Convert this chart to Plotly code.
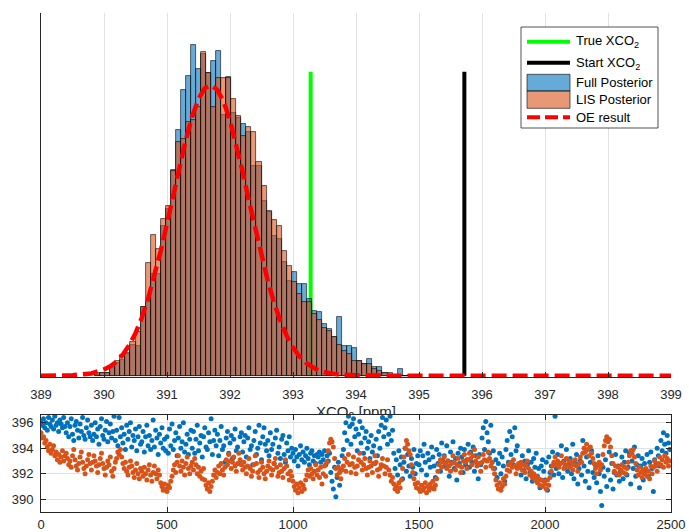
import plotly.graph_objects as go

# ---------------- posterior histograms ----------------
bin_width = 0.08  # ppm
bin_centers = [round(389.90 + bin_width * i, 2) for i in range(63)]

full_posterior = [
    0.002, 0.007, 0.005, 0.018, 0.029, 0.036, 0.050, 0.070, 0.068, 0.155,
    0.167, 0.230, 0.230, 0.338, 0.376, 0.466, 0.556, 0.647, 0.678, 0.748,
    0.694, 0.728, 0.685, 0.712, 0.734, 0.590, 0.676, 0.595, 0.583, 0.568,
    0.552, 0.473, 0.473, 0.394, 0.369, 0.315, 0.309, 0.257, 0.214, 0.234,
    0.207, 0.207, 0.173, 0.146, 0.144, 0.117, 0.106, 0.088, 0.133, 0.068,
    0.068, 0.063, 0.034, 0.027, 0.038, 0.020, 0.020, 0.007, 0.005, 0.000,
    0.014, 0.000, 0.002,
]
lis_posterior = [
    0.005, 0.007, 0.005, 0.023, 0.034, 0.047, 0.052, 0.077, 0.099, 0.155,
    0.255, 0.318, 0.286, 0.354, 0.383, 0.462, 0.529, 0.534, 0.574, 0.579,
    0.608, 0.732, 0.685, 0.608, 0.674, 0.674, 0.674, 0.626, 0.588, 0.541,
    0.563, 0.552, 0.484, 0.428, 0.372, 0.351, 0.338, 0.282, 0.248, 0.212,
    0.185, 0.167, 0.167, 0.140, 0.126, 0.108, 0.101, 0.088, 0.070, 0.056,
    0.050, 0.034, 0.034, 0.027, 0.027, 0.016, 0.011, 0.007, 0.002, 0.002,
    0.000, 0.000, 0.000,
]

# optimal-estimation posterior curve
oe_x = [389.0, 389.5, 389.8, 389.9, 390.0, 390.1, 390.2, 390.3, 390.4, 390.5,
        390.6, 390.7, 390.8, 390.9, 391.0, 391.1, 391.2, 391.3, 391.4, 391.5,
        391.6, 391.7, 391.8, 391.9, 392.0, 392.1, 392.2, 392.3, 392.4, 392.5,
        392.6, 392.7, 392.8, 392.9, 393.0, 393.1, 393.2, 393.3, 393.4, 393.5,
        393.7, 394.0, 394.5, 399.0]
oe_y = [0.000, 0.001, 0.005, 0.009, 0.014, 0.021, 0.032, 0.048, 0.069, 0.096,
        0.131, 0.174, 0.224, 0.282, 0.344, 0.410, 0.474, 0.534, 0.586, 0.626,
        0.650, 0.657, 0.646, 0.619, 0.577, 0.523, 0.462, 0.396, 0.332, 0.270,
        0.214, 0.165, 0.123, 0.090, 0.064, 0.044, 0.030, 0.020, 0.012, 0.008,
        0.003, 0.001, 0.000, 0.000]

true_xco2 = 393.28
start_xco2 = 395.72
marker_height = 0.687

# ---------------- MCMC chains (every 5th iteration) ----------------
iterations = list(range(0, 2500, 5))

full_chain = [
    396.1, 395.8, 396.3, 395.6, 396.0, 395.4, 396.4, 395.9, 395.7, 396.2, 395.5, 396.5, 395.8, 396.0, 395.3, 396.2, 395.9, 395.6, 396.4, 395.7,
    395.2, 396.0, 394.9, 395.7, 396.3, 395.1, 394.6, 395.8, 396.1, 395.4, 394.8, 395.9, 395.3, 396.4, 395.0, 394.7, 395.6, 396.2, 395.2, 394.9,
    395.8, 394.6, 395.1, 396.0, 394.9, 395.5, 394.3, 395.7, 396.3, 395.0, 394.7, 395.4, 396.1, 394.5, 395.2, 395.9, 394.8, 395.3, 396.5, 394.6,
    395.4, 394.2, 396.4, 394.9, 395.6, 394.4, 395.1, 393.9, 395.8, 394.7, 395.3, 396.0, 394.1, 395.0, 394.6, 395.5, 393.8, 394.9, 395.7, 394.3,
    394.5, 395.3, 393.7, 394.9, 395.8, 394.2, 395.0, 393.9, 394.6, 396.2, 394.1, 395.4, 394.8, 393.5, 395.1, 394.4, 395.6, 394.0, 394.7, 393.8,
    394.9, 393.6, 395.5, 394.2, 395.9, 393.9, 394.6, 395.2, 393.4, 394.8, 395.7, 394.0, 394.5, 396.0, 393.7, 394.3, 395.1, 393.5, 394.7, 395.4,
    394.0, 395.3, 393.6, 394.7, 395.8, 393.8, 394.4, 395.0, 393.3, 394.9, 395.6, 394.1, 393.9, 395.2, 394.5, 396.3, 393.5, 394.6, 395.4, 394.2,
    395.1, 393.4, 394.6, 395.7, 393.9, 394.2, 392.9, 394.8, 395.3, 393.6, 394.4, 395.0, 393.2, 394.7, 395.5, 393.8, 394.1, 392.8, 394.9, 395.2,
    393.7, 394.5, 395.0, 393.3, 394.8, 395.6, 393.9, 394.2, 392.7, 394.6, 395.3, 393.5, 394.0, 395.8, 394.4, 393.1, 394.9, 395.6, 394.3, 393.8,
    394.6, 393.4, 395.2, 393.9, 394.3, 392.8, 394.8, 395.4, 393.6, 394.1, 393.2, 394.7, 395.0, 393.5, 392.9, 394.4, 393.8, 394.9, 393.3, 394.0,
    393.6, 393.0, 393.9, 393.3, 392.6, 393.5, 394.2, 393.1, 393.7, 392.9, 393.4, 394.0, 393.2, 392.7, 393.6, 393.8, 393.0, 393.4, 392.8, 393.5,
    393.3, 393.7, 392.9, 393.5, 393.1, 393.8, 392.7, 393.4, 393.0, 393.6, 392.1, 391.4, 390.8, 392.5, 390.2, 391.7, 392.9, 391.1, 392.3, 393.4,
    393.9, 395.2, 396.0, 394.6, 396.5, 395.7, 394.3, 395.9, 396.3, 394.9, 395.5, 393.8, 395.1, 396.1, 394.4, 395.6, 393.6, 394.8, 395.3, 394.0,
    394.5, 393.2, 395.0, 393.7, 394.2, 392.8, 394.7, 393.4, 395.3, 394.0, 395.8, 396.4, 394.9, 395.6, 396.2, 394.3, 395.1, 396.5, 394.6, 395.4,
    393.6, 392.4, 393.1, 391.9, 393.8, 392.7, 393.3, 391.6, 392.9, 394.0, 392.2, 393.5, 392.6, 391.8, 393.2, 392.5, 393.9, 392.0, 392.8, 393.4,
    392.7, 393.8, 392.3, 393.4, 394.3, 392.9, 391.9, 393.6, 393.1, 392.5, 394.1, 393.3, 392.6, 391.7, 393.9, 392.8, 393.5, 392.2, 394.4, 393.0,
    393.4, 392.6, 394.2, 393.0, 391.8, 393.7, 392.9, 394.5, 392.4, 393.2, 391.5, 393.6, 392.8, 394.0, 393.3, 392.1, 393.9, 392.7, 393.1, 394.3,
    392.5, 393.7, 392.9, 394.1, 392.2, 393.4, 392.8, 391.6, 393.5, 392.7, 394.8, 395.6, 393.9, 396.1, 395.2, 394.5, 393.6, 395.8, 392.9, 393.8,
    392.4, 393.1, 391.7, 392.8, 393.6, 392.0, 393.3, 392.6, 391.4, 393.9, 394.6, 392.9, 395.3, 393.5, 394.9, 392.7, 395.6, 393.8, 394.2, 392.5,
    392.8, 391.9, 393.4, 392.3, 393.0, 391.6, 392.7, 393.8, 392.1, 392.9, 391.4, 393.2, 392.5, 393.6, 391.8, 392.4, 390.9, 392.6, 393.1, 392.2,
    391.5, 392.9, 390.7, 393.3, 392.1, 392.6, 393.7, 391.9, 396.5, 392.4, 393.5, 392.0, 392.8, 394.2, 391.7, 393.0, 392.5, 393.9, 392.2, 392.7,
    393.2, 392.0, 394.3, 391.6, 392.8, 393.5, 391.2, 392.4, 393.0, 391.9, 394.6, 392.6, 391.4, 393.3, 392.2, 390.9, 392.9, 393.8, 392.1, 391.7,
    392.7, 391.3, 393.4, 392.0, 390.6, 389.5, 392.5, 391.8, 393.1, 391.0, 392.3, 393.7, 391.5, 392.8, 390.8, 392.1, 393.5, 391.9, 392.6, 391.4,
    392.2, 393.3, 391.6, 392.9, 393.8, 391.9, 392.5, 393.6, 391.2, 393.0, 392.4, 394.1, 391.8, 392.7, 393.4, 390.9, 392.6, 393.2, 391.5, 392.8,
    392.3, 393.5, 391.8, 392.9, 393.7, 392.4, 390.6, 393.1, 392.7, 394.0, 393.4, 392.6, 394.6, 393.8, 395.2, 394.3, 393.6, 395.0, 394.4, 393.9,
]
lis_chain = [
    395.2, 394.8, 394.9, 394.4, 394.6, 394.1, 393.8, 394.3, 393.6, 393.9, 394.2, 393.4, 393.7, 393.1, 393.5, 392.9, 393.3, 393.8, 393.0, 393.4,
    393.6, 393.2, 392.7, 393.0, 392.5, 393.4, 393.9, 393.1, 392.6, 392.3, 392.8, 393.3, 393.7, 392.9, 392.4, 392.0, 392.6, 393.1, 393.5, 392.8,
    392.3, 392.9, 393.4, 393.0, 392.6, 392.1, 392.7, 393.2, 393.6, 392.8, 392.4, 391.9, 392.5, 393.0, 392.7, 393.3, 392.2, 391.8, 392.4, 392.9,
    393.2, 393.7, 393.5, 393.9, 393.3, 392.8, 392.4, 392.9, 392.2, 391.9, 392.5, 393.0, 392.6, 392.1, 391.7, 392.3, 392.8, 392.0, 391.6, 392.4,
    392.2, 391.8, 392.5, 392.0, 391.5, 392.3, 392.7, 391.9, 391.4, 392.1, 392.6, 392.0, 391.6, 392.3, 391.9, 391.3, 391.0, 390.7, 391.2, 390.8,
    390.6, 391.1, 390.9, 391.4, 391.8, 392.3, 392.7, 392.1, 392.9, 393.4, 392.6, 392.2, 393.0, 392.5, 391.9, 392.8, 393.3, 392.4, 392.0, 392.6,
    392.9, 392.3, 393.2, 392.7, 392.0, 392.5, 391.8, 392.2, 391.6, 392.4, 391.5, 391.1, 390.8, 391.3, 390.6, 391.0, 391.4, 391.9, 392.3, 391.7,
    392.1, 392.6, 392.0, 392.8, 392.3, 391.9, 392.5, 393.1, 392.7, 393.5, 393.0, 392.4, 392.9, 393.3, 392.6, 392.2, 392.8, 393.6, 393.1, 392.7,
    392.3, 392.9, 392.5, 392.0, 392.6, 393.2, 392.4, 391.8, 392.2, 392.7, 393.4, 392.8, 392.1, 391.7, 392.3, 392.9, 392.5, 392.0, 391.6, 392.2,
    392.6, 393.0, 392.4, 391.9, 392.3, 392.8, 393.2, 392.5, 391.8, 392.1, 392.7, 392.2, 391.7, 392.4, 393.1, 392.6, 392.0, 391.5, 392.2, 391.8,
    391.4, 391.0, 390.7, 391.2, 390.5, 390.9, 391.3, 390.6, 391.1, 390.8, 391.5, 391.9, 392.3, 391.8, 392.4, 392.0, 391.6, 392.2, 392.7, 391.9,
    392.3, 391.7, 392.5, 391.2, 392.0, 392.6, 391.8, 392.9, 393.8, 394.4, 394.7, 394.5, 394.1, 393.2, 392.4, 391.9, 392.5, 392.1, 391.6, 392.3,
    392.6, 393.2, 392.2, 392.9, 393.5, 392.7, 392.1, 392.8, 393.3, 392.5, 392.0, 392.6, 393.1, 393.6, 392.9, 392.3, 392.7, 393.2, 392.4, 391.9,
    392.5, 393.0, 392.6, 392.1, 392.8, 393.4, 392.9, 392.3, 391.8, 392.4, 392.7, 393.2, 392.6, 392.0, 392.5, 393.1, 392.3, 391.9, 391.4, 391.7,
    391.2, 390.8, 391.0, 390.6, 391.3, 390.9, 391.5, 392.4, 393.3, 394.0, 394.6, 394.3, 393.8, 393.5, 392.7, 392.1, 391.6, 391.2, 390.9, 391.3,
    390.8, 390.6, 391.1, 390.7, 390.9, 391.3, 390.5, 391.0, 390.7, 391.2, 390.9, 391.4, 390.8, 391.1, 391.6, 392.2, 392.7, 393.1, 392.5, 392.9,
    393.3, 392.8, 392.4, 393.0, 392.6, 392.2, 392.8, 393.4, 392.9, 392.3, 392.7, 393.2, 392.6, 392.1, 392.5, 393.0, 393.5, 392.9, 392.4, 393.1,
    393.6, 393.2, 392.7, 393.4, 393.9, 393.0, 392.6, 393.3, 392.8, 392.2, 392.9, 393.5, 393.1, 392.5, 393.0, 393.7, 393.2, 392.6, 392.9, 392.4,
    392.0, 391.5, 391.1, 390.8, 391.3, 390.7, 391.0, 391.6, 391.2, 391.8, 392.3, 392.7, 392.2, 392.9, 392.5, 393.1, 392.6, 392.0, 392.4, 392.8,
    392.5, 392.9, 392.3, 392.7, 392.1, 392.6, 393.0, 392.4, 391.9, 392.2, 391.7, 392.0, 391.5, 391.8, 391.3, 391.6, 391.1, 391.5, 391.0, 391.4,
    391.2, 390.8, 391.5, 391.1, 391.7, 392.2, 392.6, 392.9, 393.3, 392.7, 393.0, 392.5, 392.8, 393.4, 392.9, 392.4, 392.7, 393.2, 392.6, 393.0,
    392.5, 392.9, 392.3, 392.7, 393.1, 392.6, 392.2, 392.8, 393.3, 392.9, 393.6, 394.0, 393.7, 394.3, 393.9, 393.4, 394.1, 393.6, 393.2, 392.8,
    392.4, 392.0, 392.6, 392.9, 392.3, 392.7, 393.5, 394.2, 394.6, 394.9, 394.5, 394.7, 394.1, 393.4, 392.8, 392.2, 392.6, 392.0, 392.5, 391.9,
    392.3, 392.7, 392.1, 392.5, 392.0, 392.4, 392.9, 393.4, 393.8, 393.6, 393.9, 393.3, 392.8, 392.3, 391.9, 392.5, 392.1, 391.7, 392.3, 392.0,
    392.4, 391.8, 392.2, 391.6, 392.6, 392.0, 392.5, 393.0, 392.6, 392.2, 392.8, 393.3, 392.7, 393.1, 392.5, 393.4, 392.9, 393.2, 392.6, 393.0,
]

BLUE = "rgb(0,114,189)"
ORANGE = "rgb(217,83,25)"
BLUE_FACE = "rgba(0,114,189,0.6)"
ORANGE_FACE = "rgba(217,83,25,0.6)"
EDGE = "rgba(0,0,0,0.75)"
AXIS = "#262626"
GRID = "#e2e2e2"
FONT = "Liberation Sans, Arial, Helvetica, sans-serif"

fig = go.Figure()

# histograms (upper panel)
fig.add_trace(go.Bar(x=bin_centers, y=full_posterior, width=bin_width,
                     marker=dict(color=BLUE_FACE, line=dict(color=EDGE, width=0.8)),
                     name="Full Posterior", xaxis="x", yaxis="y"))
fig.add_trace(go.Bar(x=bin_centers, y=lis_posterior, width=bin_width,
                     marker=dict(color=ORANGE_FACE, line=dict(color=EDGE, width=0.8)),
                     name="LIS Posterior", xaxis="x", yaxis="y"))
fig.add_trace(go.Scatter(x=oe_x, y=oe_y, mode="lines",
                         line=dict(color="#ff0000", width=4.5, dash="15px,6px"),
                         name="OE result", xaxis="x", yaxis="y"))

# chains (lower panel)
fig.add_trace(go.Scatter(x=iterations, y=full_chain, mode="markers",
                         marker=dict(color=BLUE, size=5), xaxis="x2", yaxis="y2"))
fig.add_trace(go.Scatter(x=iterations, y=lis_chain, mode="markers",
                         marker=dict(color=ORANGE, size=5), xaxis="x2", yaxis="y2"))

# x label of the upper panel, tucked under the lower panel (clipped by its own strip)
fig.add_trace(go.Scatter(x=[0.5], y=[0.118], mode="text",
                         text=["XCO<sub>2</sub> [ppm]"], textposition="middle center",
                         textfont=dict(family=FONT, size=15, color=AXIS),
                         cliponaxis=True, hoverinfo="skip", xaxis="x3", yaxis="y3"))

# layout helpers: pixel -> paper coordinates
L, R, T, B, W, H = 41, 18, 13, 20, 689, 532
PW, PH = W - L - R, H - T - B


def px(xp):
    return (xp - L) / PW


def py(yp):
    return (H - B - yp) / PH


shapes = [
    # true / start values, drawn underneath the bars
    dict(type="line", xref="x", yref="y", x0=true_xco2, x1=true_xco2, y0=0, y1=marker_height,
         line=dict(color="#00ff00", width=4), layer="between"),
    dict(type="line", xref="x", yref="y", x0=start_xco2, x1=start_xco2, y0=0, y1=marker_height,
         line=dict(color="#000000", width=4), layer="between"),
    # legend box
    dict(type="rect", xref="paper", yref="paper", x0=px(521), x1=px(658), y0=py(128), y1=py(27),
         line=dict(color=AXIS, width=0.8), fillcolor="white", layer="above"),
    dict(type="line", xref="paper", yref="paper", x0=px(527), x1=px(570), y0=py(41.7), y1=py(41.7),
         line=dict(color="#00ff00", width=4), layer="above"),
    dict(type="line", xref="paper", yref="paper", x0=px(527), x1=px(570), y0=py(62.7), y1=py(62.7),
         line=dict(color="#000000", width=4), layer="above"),
    dict(type="rect", xref="paper", yref="paper", x0=px(527), x1=px(570), y0=py(91), y1=py(74.3),
         line=dict(color=EDGE, width=0.8), fillcolor=BLUE_FACE, layer="above"),
    dict(type="rect", xref="paper", yref="paper", x0=px(527), x1=px(570), y0=py(108.3), y1=py(91),
         line=dict(color=EDGE, width=0.8), fillcolor=ORANGE_FACE, layer="above"),
    dict(type="line", xref="paper", yref="paper", x0=px(527), x1=px(570), y0=py(117.3), y1=py(117.3),
         line=dict(color="#ff0000", width=4, dash="13px,5px"), layer="above"),
]

legend_text = [("True XCO<sub>2</sub>", 41.5), ("Start XCO<sub>2</sub>", 64.0),
               ("Full Posterior", 82.7), ("LIS Posterior", 100.0), ("OE result", 117.3)]
annotations = [dict(x=px(574), y=py(yy), xref="paper", yref="paper", text=t, showarrow=False,
                    xanchor="left", yanchor="middle", font=dict(family=FONT, size=13, color="black"))
               for t, yy in legend_text]

axis_common = dict(showline=True, linecolor=AXIS, linewidth=1, ticks="inside", ticklen=5,
                   tickcolor=AXIS, zeroline=False, automargin=False,
                   tickfont=dict(family=FONT, size=13, color=AXIS))

fig.update_layout(
    width=W, height=H,
    margin=dict(l=L, r=R, t=T, b=B, autoexpand=False),
    paper_bgcolor="white", plot_bgcolor="white",
    showlegend=False,
    barmode="overlay", bargap=0,
    font=dict(family=FONT, size=13, color=AXIS),
    shapes=shapes, annotations=annotations,
    xaxis=dict(domain=[0, 1], anchor="y", range=[389, 399], tick0=389, dtick=1,
               showgrid=True, gridcolor=GRID, ticklabelstandoff=5, **axis_common),
    yaxis=dict(domain=[py(377), 1], anchor="x", range=[-0.003, 0.82], showgrid=False,
               showline=True, linecolor=AXIS, linewidth=1, showticklabels=False, ticks="",
               zeroline=False, automargin=False),
    xaxis2=dict(domain=[0, 1], anchor="y2", range=[0, 2500], tick0=0, dtick=500,
                showgrid=True, gridcolor=GRID, mirror="ticks", **axis_common),
    yaxis2=dict(domain=[0, py(415)], anchor="x2", range=[389, 396.6], tickvals=[390, 392, 394, 396],
                showgrid=True, gridcolor=GRID, mirror="ticks", ticklabelstandoff=4, **axis_common),
    xaxis3=dict(domain=[0, 1], anchor="y3", range=[0, 1], visible=False, fixedrange=True,
                automargin=False),
    yaxis3=dict(domain=[py(415), py(398)], anchor="x3", range=[0, 1], visible=False,
                fixedrange=True, automargin=False),
)

fig.write_html("out.html")
